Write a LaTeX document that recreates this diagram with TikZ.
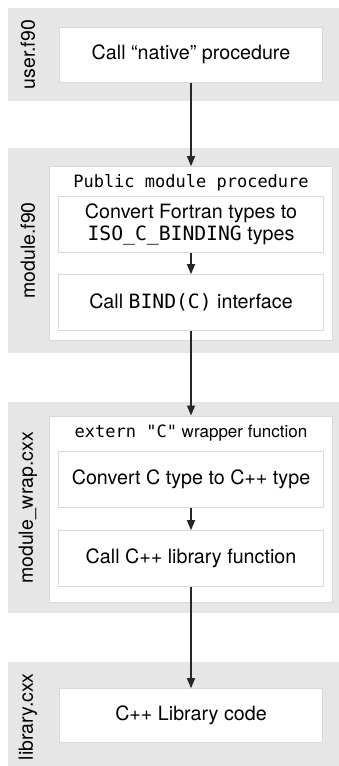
\documentclass[tikz,border=0pt]{standalone}
\usepackage{fontspec}
\setmainfont{TeX Gyre Heros}
\setmonofont{DejaVu Sans Mono}
\usetikzlibrary{arrows.meta}
\definecolor{panelgray}{HTML}{E6E6E6}
\definecolor{boxline}{HTML}{D9D9D9}
\tikzset{
  panel/.style={fill=panelgray, draw=none, inner sep=0pt},
  wbox/.style={fill=white, draw=boxline, line width=1pt, inner sep=0pt},
  body/.style={font=\fontsize{19.7}{22.7}\selectfont, align=center, text=black},
  sidelabel/.style={rotate=90, font=\fontsize{19.5}{23}\selectfont, inner sep=0pt},
  titletext/.style={font=\fontsize{17}{20}\selectfont, inner sep=0pt},
  flow/.style={-{Triangle[length=10pt,width=8pt]}, line width=1.3pt, draw=black!85}
}
\begin{document}
\begin{tikzpicture}[x=1pt,y=-1pt]
\useasboundingbox (0,0) rectangle (339,766);

% panel 1: user.f90
\node[panel, minimum width=331pt, minimum height=92.7pt] (p1) at (173.5,54.35) {};
\node[sidelabel] (l1) at (28,54.5) {user.f90};
\node[wbox, body, minimum width=263.4pt, minimum height=54.7pt] (b1) at (191,54.65) {Call “native” procedure};

% panel 2: module.f90
\node[panel, minimum width=331pt, minimum height=205pt] (p2) at (173.5,250.5) {};
\node[sidelabel] (l2) at (28,250.5) {module.f90};
\node[wbox, minimum width=283.4pt, minimum height=174pt] (o2) at (191,253.7) {};
\node[titletext] (t2) at (191,182.7) {\ttfamily Public module procedure};
\node[wbox, body, minimum width=264.6pt, minimum height=55.3pt] (a2) at (191,224.35)
  {Convert Fortran types to\\\texttt{ISO\_C\_BINDING} types};
\node[wbox, body, minimum width=264.6pt, minimum height=56pt] (c2) at (191,302.7)
  {Call \texttt{BIND(C)} interface};

% panel 3: module_wrap.cxx
\node[panel, minimum width=331pt, minimum height=211.3pt] (p3) at (173.5,507.65) {};
\node[sidelabel] (l3) at (28,508) {module\_wrap.cxx};
\node[wbox, minimum width=283.4pt, minimum height=186pt] (o3) at (191,509) {};
\node[titletext] (t3) at (191,432.7) {\texttt{extern "C"} wrapper function};
\node[wbox, body, minimum width=264.6pt, minimum height=56pt] (a3) at (191,479.3)
  {Convert C type to C++ type};
\node[wbox, body, minimum width=264.6pt, minimum height=56pt] (c3) at (191,558.7)
  {Call C++ library function};

% panel 4: library.cxx
\node[panel, minimum width=331pt, minimum height=104pt] (p4) at (173.5,714) {};
\node[sidelabel] (l4) at (28,716.7) {library.cxx};
\node[wbox, body, minimum width=263.4pt, minimum height=53.3pt] (b4) at (191,715.35) {C++ Library code};

% connectors
\draw[flow] (b1.south) -- (o2.north);
\draw[flow] (a2.south) -- (c2.north);
\draw[flow] (c2.south) -- (o3.north);
\draw[flow] (a3.south) -- (c3.north);
\draw[flow] (c3.south) -- (b4.north);
\end{tikzpicture}
\end{document}
